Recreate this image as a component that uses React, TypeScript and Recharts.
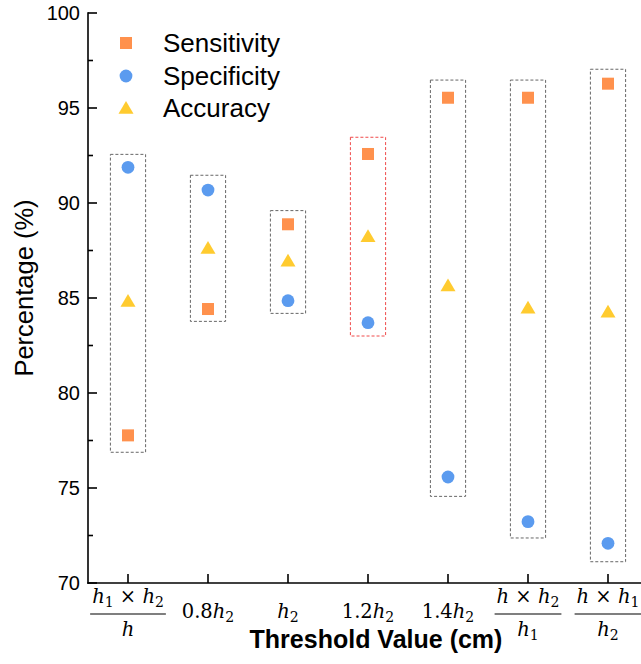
import React, { useLayoutEffect, useRef, useState } from 'react';
import { Legend, ReferenceArea, Scatter, ScatterChart, XAxis, YAxis } from 'recharts';

// tick labels: "_" marks a subscript, " / " splits a fraction
const categories = ['h_1 × h_2 / h', '0.8h_2', 'h_2', '1.2h_2', '1.4h_2', 'h × h_2 / h_1', 'h × h_1 / h_2'];
const sensitivity = [77.77, 84.42, 88.88, 92.58, 95.54, 95.54, 96.28];
const specificity = [91.88, 90.68, 84.86, 83.7, 75.58, 73.23, 72.09];
const accuracy = [84.84, 87.63, 86.96, 88.25, 85.66, 84.49, 84.27];
// dashed boxes around each group
const boxLow = [76.88, 83.77, 84.19, 83.0, 74.56, 72.37, 71.12];
const boxHigh = [92.56, 91.46, 89.6, 93.46, 96.47, 96.47, 97.04];
const boxHighlight = [false, false, false, true, false, false, false];
const yTicks = [70, 72.5, 75, 77.5, 80, 82.5, 85, 87.5, 90, 92.5, 95, 97.5, 100];
const xTicks = [0, 1, 2, 3, 4, 5, 6];

const seriesNames = ['Sensitivity', 'Specificity', 'Accuracy'];
const seriesShapes = ['square', 'circle', 'triangle'] as const;
const seriesColors = ['#FF914D', '#5B9BEF', '#FFCB2F'];
const seriesValues = [sensitivity, specificity, accuracy];

const SANS = '"Liberation Sans", Arial, sans-serif';
const MATH = '"DejaVu Serif", serif';
const AXIS = '#000';
const MATH_SIZE = 19.5;

type Kind = (typeof seriesShapes)[number];

function Marker({ kind, cx, cy, color }: { kind: Kind; cx: number; cy: number; color: string }) {
  if (kind === 'square') return <rect x={cx - 6} y={cy - 6} width={12} height={12} fill={color} />;
  if (kind === 'circle') return <circle cx={cx} cy={cy} r={6.4} fill={color} />;
  return <polygon points={`${cx},${cy - 7} ${cx - 7.5},${cy + 5.7} ${cx + 7.5},${cy + 5.7}`} fill={color} />;
}

function MathText({ src, x, y, size, textRef }: { src: string; x: number; y: number; size: number; textRef?: any }) {
  const sub = size * 0.2;
  const parts: React.ReactNode[] = [];
  let shift = 0;
  for (let i = 0; i < src.length; i++) {
    let ch = src[i];
    if (ch === '_') {
      i++;
      parts.push(
        <tspan key={i} dy={sub - shift} fontSize={size * 0.72}>
          {src[i]}
        </tspan>
      );
      shift = sub;
    } else {
      if (ch === ' ') ch = '\u00A0';
      parts.push(
        <tspan key={i} dy={-shift} fontStyle={ch === 'h' ? 'italic' : 'normal'}>
          {ch}
        </tspan>
      );
      shift = 0;
    }
  }
  return (
    <text ref={textRef} x={x} y={y} textAnchor="middle" fontFamily={MATH} fontSize={size} fill="#000">
      {parts}
    </text>
  );
}

function BottomTick(props: any) {
  const { x, y, payload } = props;
  const label = categories[payload.value] ?? '';
  const frac = label.split(' / ');
  const numRef = useRef<SVGTextElement>(null);
  const [barW, setBarW] = useState(60);
  useLayoutEffect(() => {
    if (numRef.current) setBarW(numRef.current.getComputedTextLength());
  }, [label]);
  return (
    <g>
      <line x1={x} x2={x} y1={y} y2={y - 9} stroke={AXIS} strokeWidth={1.6} />
      {frac.length === 2 ? (
        <>
          <MathText src={frac[0]} x={x} y={y + 20} size={MATH_SIZE} textRef={numRef} />
          <line x1={x - barW / 2 - 2} x2={x + barW / 2 + 2} y1={y + 31} y2={y + 31} stroke="#000" strokeWidth={1.1} />
          <MathText src={frac[1]} x={x} y={y + 53} size={MATH_SIZE} />
        </>
      ) : (
        <MathText src={label} x={x} y={y + 35} size={MATH_SIZE} />
      )}
    </g>
  );
}

function TopTick(props: any) {
  const { x, y } = props;
  return <line x1={x} x2={x} y1={y} y2={y + 9} stroke={AXIS} strokeWidth={1.6} />;
}

function LeftTick(props: any) {
  const { x, y, payload } = props;
  const major = payload.value % 5 === 0;
  return (
    <g>
      <line x1={x} x2={x + (major ? 9 : 5)} y1={y} y2={y} stroke={AXIS} strokeWidth={1.6} />
      {major && (
        <text x={x - 8} y={y} textAnchor="end" dominantBaseline="central" fontFamily={SANS} fontSize={20} fill="#000">
          {payload.value}
        </text>
      )}
    </g>
  );
}

function RightTick(props: any) {
  const { x, y, payload } = props;
  const major = payload.value % 5 === 0;
  return <line x1={x} x2={x - (major ? 9 : 5)} y1={y} y2={y} stroke={AXIS} strokeWidth={1.6} />;
}

const renderYTitle = (p: any) => {
  const vb = p.viewBox;
  const cy = vb.y + vb.height / 2 - 10;
  return (
    <text x={33} y={cy} transform={`rotate(-90 33 ${cy})`} textAnchor="middle" fontFamily={SANS} fontSize={25.5} fill="#000">
      Percentage (%)
    </text>
  );
};

const renderXTitle = (p: any) => {
  const vb = p.viewBox;
  return (
    <text x={vb.x + vb.width / 2 + 8} y={648} textAnchor="middle" fontFamily={SANS} fontWeight="bold" fontSize={25} fill="#000">
      Threshold Value (cm)
    </text>
  );
};

const renderLegend = () => (
  <div style={{ fontFamily: SANS, fontSize: 26, color: '#000' }}>
    {seriesNames.map((name, i) => (
      <div key={name} style={{ display: 'flex', alignItems: 'center', height: 32.5 }}>
        <svg width={32} height={32} style={{ display: 'block' }}>
          <Marker kind={seriesShapes[i]} cx={16} cy={16} color={seriesColors[i]} />
        </svg>
        <span style={{ marginLeft: 21, lineHeight: '32.5px' }}>{name}</span>
      </div>
    ))}
  </div>
);

const axisLine = { stroke: AXIS, strokeWidth: 1.6, strokeLinecap: 'square' as const };

export default function App() {
  return (
    <div style={{ position: 'fixed', left: 0, top: 0, width: 641, height: 664, overflow: 'hidden', background: '#fff' }}>
      <ScatterChart width={660} height={664} margin={{ top: 13, right: 12, bottom: 0, left: 0 }}>
        <XAxis
          type="number"
          dataKey="x"
          domain={[-0.5, 6.5]}
          allowDataOverflow
          ticks={xTicks}
          interval={0}
          height={81}
          tickSize={0}
          tickMargin={0}
          tickLine={false}
          axisLine={axisLine}
          tick={<BottomTick />}
          label={{ content: renderXTitle }}
        />
        <XAxis
          xAxisId="top"
          orientation="top"
          type="number"
          domain={[-0.5, 6.5]}
          allowDataOverflow
          ticks={xTicks}
          interval={0}
          height={0}
          tickSize={0}
          tickMargin={0}
          tickLine={false}
          axisLine={axisLine}
          tick={<TopTick />}
        />
        <YAxis
          type="number"
          dataKey="y"
          domain={[70, 100]}
          allowDataOverflow
          ticks={yTicks}
          interval={0}
          width={88}
          tickSize={0}
          tickMargin={0}
          tickLine={false}
          axisLine={axisLine}
          tick={<LeftTick />}
          label={{ content: renderYTitle }}
        />
        <YAxis
          yAxisId="right"
          orientation="right"
          type="number"
          domain={[70, 100]}
          allowDataOverflow
          ticks={yTicks}
          interval={0}
          width={0}
          tickSize={0}
          tickMargin={0}
          tickLine={false}
          axisLine={axisLine}
          tick={<RightTick />}
        />
        {xTicks.map((i) => (
          <ReferenceArea
            key={i}
            x1={i - 0.22}
            x2={i + 0.22}
            y1={boxLow[i]}
            y2={boxHigh[i]}
            fill="none"
            fillOpacity={0}
            stroke={boxHighlight[i] ? '#F04A4A' : '#666'}
            strokeWidth={1}
            strokeDasharray="3 2"
            ifOverflow="visible"
          />
        ))}
        {seriesNames.map((name, s) => (
          <Scatter
            key={name}
            name={name}
            data={seriesValues[s].map((v, i) => ({ x: i, y: v }))}
            fill={seriesColors[s]}
            isAnimationActive={false}
            shape={(p: any) => <Marker kind={seriesShapes[s]} cx={p.cx} cy={p.cy} color={seriesColors[s]} />}
          />
        ))}
        <Legend
          layout="vertical"
          align="center"
          verticalAlign="middle"
          content={renderLegend}
          wrapperStyle={{ left: 110, top: 27, width: 260, margin: 0 }}
        />
      </ScatterChart>
    </div>
  );
}
